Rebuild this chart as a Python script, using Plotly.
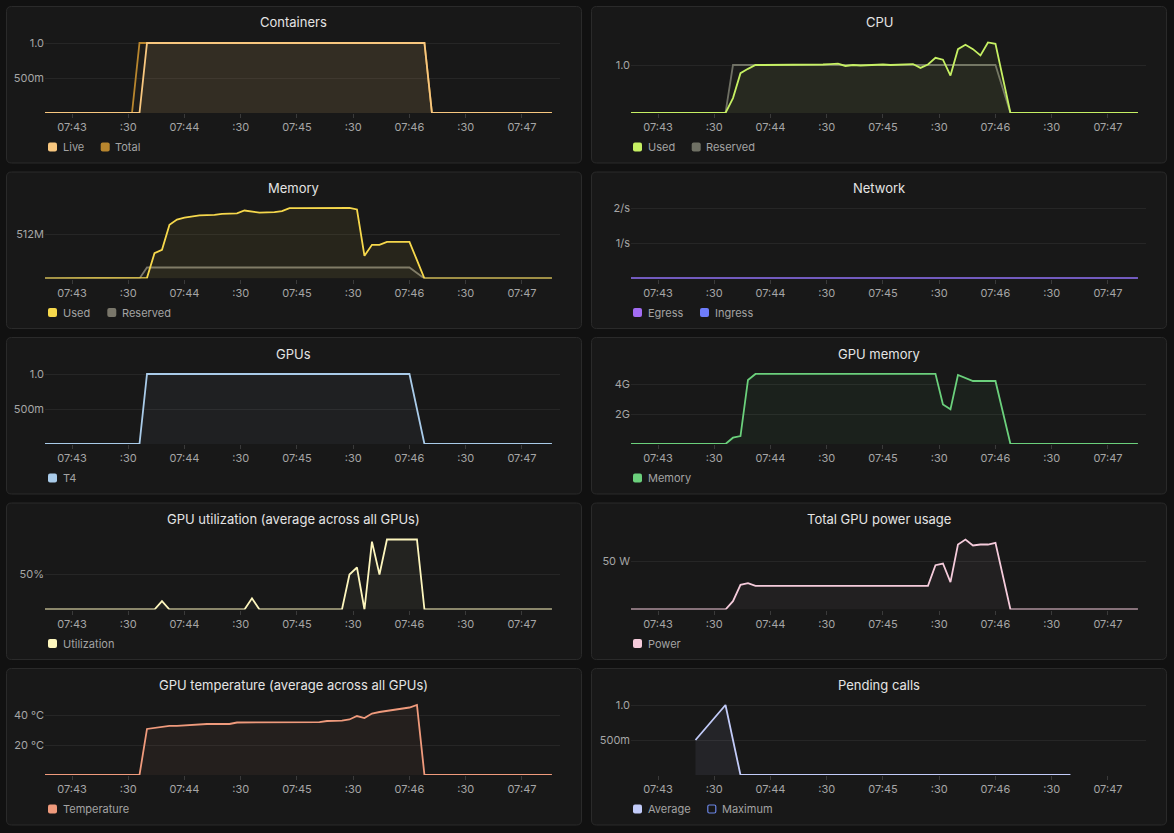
import pandas as pd
import plotly.graph_objects as go

W, H = 1174, 833

# ---------------- data ----------------
times = pd.date_range("2024-01-01 07:42:44", periods=69, freq="4s")
x_range = ["2024-01-01 07:42:45.6", "2024-01-01 07:47:20.3"]
tick_times = ["2024-01-01 07:43:00", "2024-01-01 07:43:30", "2024-01-01 07:44:00",
              "2024-01-01 07:44:30", "2024-01-01 07:45:00", "2024-01-01 07:45:30",
              "2024-01-01 07:46:00", "2024-01-01 07:46:30", "2024-01-01 07:47:00"]
tick_labels = ["07:43", ":30", "07:44", ":30", "07:45", ":30", "07:46", ":30", "07:47"]

Z14 = [0] * 14
Z18 = [0] * 18

containers_live = [0] * 14 + [1] * 38 + [0] * 17
containers_total = [0] * 13 + [1] * 39 + [0] * 17

cpu_reserved = Z14 + [1.0] * 36 + [0.5] + Z18
cpu_used = Z14 + [0.31, 0.83, 0.92, 1.0, 1.0, 1.0, 1.0, 1.0, 1.01, 1.0, 1.01, 1.01, 1.01,
                  1.02, 1.03, 0.98, 1.0, 0.99, 1.0, 1.0, 1.01, 1.0, 1.01, 1.01, 1.02, 0.94,
                  1.01, 1.15, 1.11, 0.78, 1.33, 1.42, 1.33, 1.20, 1.47, 1.44, 0.72] + Z18

mem_reserved = Z14 + [128] * 36 + [64] + Z18
mem_used = Z14 + [8, 294, 334, 625, 686, 708, 723, 735, 738, 740, 753, 755, 758, 791, 780,
                  766, 770, 772, 783, 818, 818, 819, 819, 819, 820, 820, 821, 822, 803, 264,
                  392, 392, 427, 427, 427, 427, 213] + Z18

net_egress = [0] * 69
net_ingress = [0] * 69

gpus_t4 = Z14 + [1.0] * 36 + [0.5] + Z18

gpu_mem = Z14 + [0.42, 0.53, 4.27,
                 4.67, 4.68, 4.68, 4.67, 4.68, 4.68, 4.68, 4.67, 4.68, 4.68, 4.68, 4.68, 4.67,
                 4.68, 4.68, 4.68, 4.68, 4.67, 4.68, 4.68, 4.68, 4.68, 4.67, 4.68, 4.68,
                 2.64, 2.31, 4.6, 4.4, 4.2, 4.2, 4.2, 4.2, 2.1] + Z18

gpu_util = [0] * 16 + [12] + [0] * 11 + [16] + [0] * 12 + \
           [50, 60, 0, 97, 50, 100, 100, 100, 99.7, 100] + Z18

gpu_power = Z14 + [8.7, 25.7, 27.4,
                   24.7, 24.7, 24.7, 24.7, 24.7, 24.9, 24.9, 25.3, 25.1,
                   24.9, 24.9, 24.9, 24.9, 24.9, 24.9, 24.9, 24.9, 24.9, 24.9, 24.9, 24.9,
                   25.1, 25.3, 24.7,
                   46.2, 47.9, 28.5, 67.7, 72.9, 66.7, 67.7, 67.7, 69.4, 35.0] + Z18

gpu_temp = Z14 + [30.7, 31.3, 32.0, 32.7, 32.7, 33.0, 33.3, 34.0, 34.0, 34.0, 34.0, 34.0,
                  35.0, 35.0, 35.0, 35.0, 35.0, 35.0, 35.0, 35.0, 35.0, 35.0, 35.0,
                  35.3, 36.0, 36.0, 36.3, 37.0, 39.3, 38.0, 41.0, 42.0, 42.7, 43.3, 44.0,
                  45.0, 46.7] + Z18

pending_avg = [None] * 9 + [0.5] + [None] * 3 + [1.0] + [None] + [0] * 45 + [None] * 9
pending_max = None  # legend only

# ---------------- panels ----------------
panels = [
    dict(title="Containers",
         series=[("Live", containers_live, "#f8c77f", 0.10, False),
                 ("Total", containers_total, "#b8862e", 0.04, False)],
         leg2=94.7, yr=[0, 1.1], tv=[0, 0.5, 1.0], tt=["", "500m", "1.0"]),
    dict(title="CPU",
         series=[("Used", cpu_used, "#c6f063", 0.06, False),
                 ("Reserved", cpu_reserved, "#6f7064", 0.06, False)],
         leg2=100.7, yr=[0, 77 / 48], tv=[0, 1.0], tt=["", "1.0"]),
    dict(title="Memory",
         series=[("Used", mem_used, "#f6d84c", 0.07, False),
                 ("Reserved", mem_reserved, "#79766a", 0.05, False)],
         leg2=101.3, yr=[0, 77 / 44 * 512], tv=[0, 512], tt=["", "512M"]),
    dict(title="Network",
         series=[("Egress", net_egress, "#a26cf3", 0.08, False),
                 ("Ingress", net_ingress, "#6e7dfc", 0.08, False)],
         leg2=109.0, yr=[0, 2.2], tv=[0, 1, 2], tt=["", "1/s", "2/s"]),
    dict(title="GPUs",
         series=[("T4", gpus_t4, "#a9cbe9", 0.05, False)],
         leg2=None, yr=[0, 1.1], tv=[0, 0.5, 1.0], tt=["", "500m", "1.0"]),
    dict(title="GPU memory",
         series=[("Memory", gpu_mem, "#6bd07c", 0.05, False)],
         leg2=None, yr=[0, 77 / 15], tv=[0, 2, 4], tt=["", "2G", "4G"]),
    dict(title="GPU utilization (average across all GPUs)",
         series=[("Utilization", gpu_util, "#fdf6bd", 0.05, False)],
         leg2=None, yr=[0, 110], tv=[0, 50], tt=["", "50%"]),
    dict(title="Total GPU power usage",
         series=[("Power", gpu_power, "#f5cbdb", 0.05, False)],
         leg2=None, yr=[0, 77 * 50 / 48], tv=[0, 50], tt=["", "50 W"]),
    dict(title="GPU temperature (average across all GPUs)",
         series=[("Temperature", gpu_temp, "#ef9a7c", 0.06, False)],
         leg2=None, yr=[0, 77 * 20 / 30], tv=[0, 20, 40], tt=["", "20 °C", "40 °C"]),
    dict(title="Pending calls",
         series=[("Average", pending_avg, "#c2cbf9", 0.07, False),
                 ("Maximum", pending_max, "#6b86e6", 0.0, True)],
         leg2=116.3, yr=[0, 1.1], tv=[0, 0.5, 1.0], tt=["", "500m", "1.0"]),
]

FONT = "Inter, 'Noto Sans', sans-serif"
PAGE_BG = "#111111"
PANEL_BG = "#181818"
BORDER = "#2a2a2a"
GRID = "#262626"
TICK_COL = "#a6a6a6"


def X(px):
    return px / W


def Y(py):
    return 1 - py / H


def rgba(hexc, a):
    h = hexc.lstrip("#")
    r, g, b = int(h[0:2], 16), int(h[2:4], 16), int(h[4:6], 16)
    return f"rgba({r},{g},{b},{a})"


def rounded(x0, y0, x1, y1, r):
    pts = []
    pts.append(f"M{X(x0 + r)},{Y(y0)}")
    pts.append(f"L{X(x1 - r)},{Y(y0)}")
    pts.append(f"Q{X(x1)},{Y(y0)} {X(x1)},{Y(y0 + r)}")
    pts.append(f"L{X(x1)},{Y(y1 - r)}")
    pts.append(f"Q{X(x1)},{Y(y1)} {X(x1 - r)},{Y(y1)}")
    pts.append(f"L{X(x0 + r)},{Y(y1)}")
    pts.append(f"Q{X(x0)},{Y(y1)} {X(x0)},{Y(y1 - r)}")
    pts.append(f"L{X(x0)},{Y(y0 + r)}")
    pts.append(f"Q{X(x0)},{Y(y0)} {X(x0 + r)},{Y(y0)}Z")
    return " ".join(pts)


fig = go.Figure()
shapes = []
annotations = []
layout_axes = {}

for i, p in enumerate(panels):
    row, col = divmod(i, 2)
    top = 6 + 165.5 * row
    px0 = 6 if col == 0 else 591
    px1 = 582 if col == 0 else 1167
    plot_x0 = px0 + 39 if col == 0 else px0 + 40
    plot_x1 = px1 - 22 if col == 0 else px1 - 21
    plot_top = top + 30
    plot_bot = top + 107

    # panel background
    shapes.append(dict(type="path", path=rounded(px0 + 0.5, top + 0.5, px1 - 0.5, top + 157, 5),
                       xref="paper", yref="paper", fillcolor=PANEL_BG,
                       line=dict(color=BORDER, width=1), layer="below"))

    n = i + 1
    xa = "x" if n == 1 else f"x{n}"
    ya = "y" if n == 1 else f"y{n}"
    xkey = "xaxis" if n == 1 else f"xaxis{n}"
    ykey = "yaxis" if n == 1 else f"yaxis{n}"

    layout_axes[xkey] = dict(domain=[X(plot_x0), X(plot_x1)], anchor=ya, type="date",
                             range=x_range, tickmode="array", tickvals=tick_times,
                             ticktext=tick_labels, showgrid=False, zeroline=False,
                             showline=False, ticks="outside", ticklen=4, tickwidth=1,
                             tickcolor="#3a3a3a",
                             tickfont=dict(family=FONT, size=11, color=TICK_COL),
                             fixedrange=True)
    layout_axes[ykey] = dict(domain=[Y(plot_bot), Y(plot_top)], anchor=xa, range=p["yr"],
                             tickmode="array", tickvals=p["tv"], ticktext=p["tt"],
                             showgrid=True, gridcolor=GRID, gridwidth=1, zeroline=False,
                             showline=False, ticks="",
                             tickfont=dict(family=FONT, size=11, color=TICK_COL),
                             fixedrange=True)

    # traces: draw in reverse legend order so first legend series is on top
    for name, vals, color, alpha, hollow in reversed(p["series"]):
        if vals is None:
            continue
        fig.add_trace(go.Scatter(
            x=times, y=vals, name=name, mode="lines", xaxis=xa, yaxis=ya,
            line=dict(color=color, width=1.8), fill="tozeroy",
            fillcolor=rgba(color, alpha), connectgaps=True, showlegend=False,
            hoverinfo="skip"))

    # title
    annotations.append(dict(text=p["title"], x=X((px0 + px1) / 2), y=Y(top + 16.5),
                            xref="paper", yref="paper", showarrow=False,
                            xanchor="center", yanchor="middle",
                            font=dict(family=FONT, size=13, color="#e4e4e4")))

    # legend
    ly = top + 141
    offsets = [42, p["leg2"]]
    for j, (name, vals, color, alpha, hollow) in enumerate(p["series"]):
        sx = px0 + offsets[j]
        if hollow:
            shapes.append(dict(type="path", path=rounded(sx + 0.5, ly - 4, sx + 8.5, ly + 4, 1.5),
                               xref="paper", yref="paper", fillcolor="rgba(0,0,0,0)",
                               line=dict(color=color, width=1.2), layer="above"))
        else:
            shapes.append(dict(type="path", path=rounded(sx, ly - 4.5, sx + 9, ly + 4.5, 2),
                               xref="paper", yref="paper", fillcolor=color,
                               line=dict(width=0), layer="above"))
        annotations.append(dict(text=name, x=X(sx + 12.5), y=Y(ly), xref="paper", yref="paper",
                                showarrow=False, xanchor="left", yanchor="middle",
                                font=dict(family=FONT, size=11, color="#a3a3a3")))

fig.update_layout(
    width=W, height=H, autosize=False,
    margin=dict(l=0, r=0, t=0, b=0),
    paper_bgcolor=PAGE_BG, plot_bgcolor="rgba(0,0,0,0)",
    showlegend=False, shapes=shapes, annotations=annotations,
    font=dict(family=FONT, color=TICK_COL),
    **layout_axes,
)

fig.write_html("out.html", config={"displayModeBar": False})
